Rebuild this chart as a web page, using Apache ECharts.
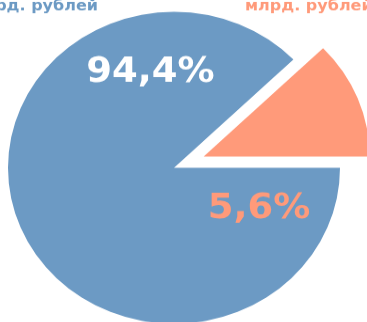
<!DOCTYPE html>
<html>
<head>
<meta charset="utf-8">
<script src="https://cdn.jsdelivr.net/npm/echarts@6/dist/echarts.min.js"></script>
<style>
  html, body { margin: 0; padding: 0; background: #ffffff; overflow: hidden; }
  #wrap { width: 367px; height: 322px; overflow: hidden; }
  /* the drawing is laid out taller and flattened to fit the frame */
  #chart { width: 367px; height: 343px; transform: scaleY(0.94); transform-origin: 0 0; }
</style>
</head>
<body>
<div id="wrap"><div id="chart"></div></div>
<script>
// Two shares of the total, in percent
const shareNames = ['Основная часть', 'Остальное'];
const shareValues = [94.4, 5.6];
const shareColors = ['#6c9ac4', '#ff9a7a'];
const unitLabels = ['млрд. рублей', 'млрд. рублей'];

const fmt = v => v.toFixed(1).replace('.', ',') + '%';

const chart = echarts.init(document.getElementById('chart'), null, { renderer: 'canvas' });

const bigFont = 'bold 37px "DejaVu Sans"';
const smallFont = 'bold 16px "DejaVu Sans"';

chart.setOption({
  animation: false,
  backgroundColor: '#ffffff',
  series: [{
    type: 'pie',
    center: [174, 178.5],
    radius: 166,
    startAngle: 0,
    clockwise: true,
    minAngle: 44,
    selectedMode: 'single',
    selectedOffset: 32,
    label: { show: false },
    labelLine: { show: false },
    emphasis: { disabled: true },
    data: shareNames.map((n, i) => ({
      name: n,
      value: shareValues[i],
      selected: i === 1,
      itemStyle: { color: shareColors[i] }
    }))
  }],
  graphic: [
    {
      type: 'text', x: 150.5, y: 77.5, z: 10,
      style: {
        text: fmt(shareValues[0]), fill: '#ffffff', font: bigFont,
        textAlign: 'center', textVerticalAlign: 'middle'
      }
    },
    {
      type: 'text', x: 259, y: 222, z: 10,
      style: {
        text: fmt(shareValues[1]), fill: shareColors[1], font: bigFont,
        textAlign: 'center', textVerticalAlign: 'middle'
      }
    },
    {
      type: 'text', x: 98, y: 15,
      style: {
        text: unitLabels[0], fill: shareColors[0], font: smallFont,
        textAlign: 'right', textVerticalAlign: 'bottom'
      }
    },
    {
      type: 'text', x: 245, y: 15,
      style: {
        text: unitLabels[1], fill: shareColors[1], font: smallFont,
        textAlign: 'left', textVerticalAlign: 'bottom'
      }
    }
  ]
});
</script>
</body>
</html>
